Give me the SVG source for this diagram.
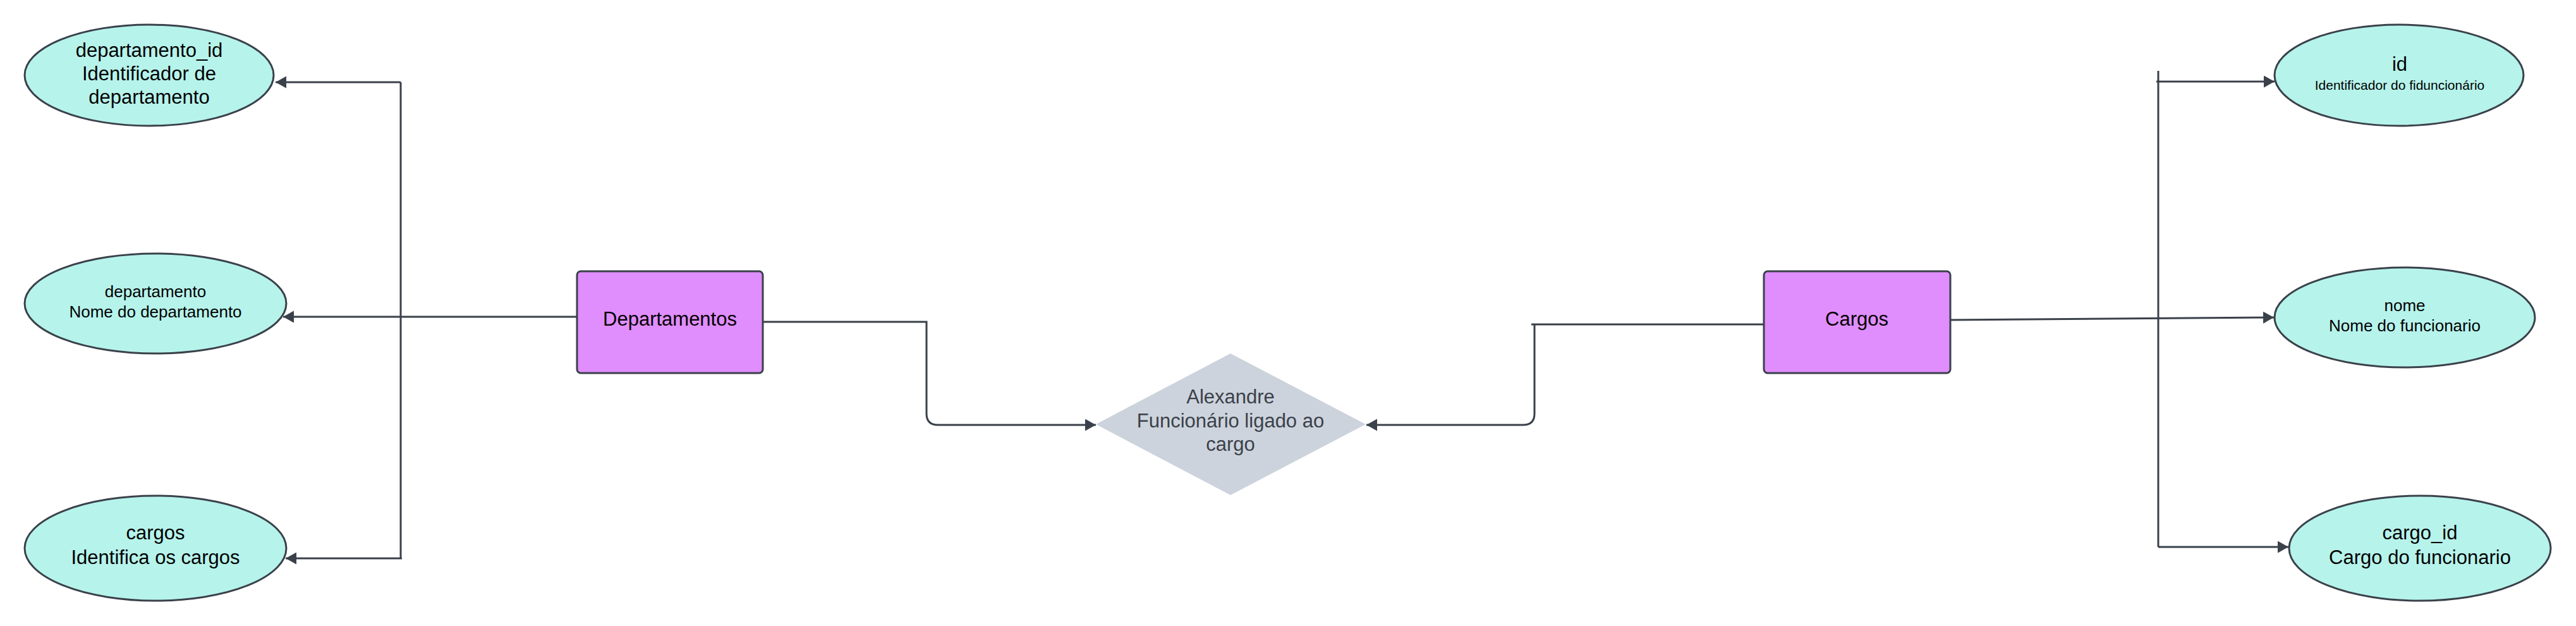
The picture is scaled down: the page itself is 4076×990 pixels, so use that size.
<svg xmlns="http://www.w3.org/2000/svg" width="4076" height="990" viewBox="0 0 4076 990">
<style>
.attr{fill:#b6f3eb;stroke:#3a414a;stroke-width:3}
.ent{fill:#e08dfd;stroke:#3a414a;stroke-width:3}
.rel{fill:#cdd3dc;stroke:none}
.t{font-family:"Liberation Sans",Arial,sans-serif;fill:#000;text-anchor:middle}
.tg{font-family:"Liberation Sans",Arial,sans-serif;fill:#3a414a;text-anchor:middle}
.c{fill:none;stroke:#3a414a;stroke-width:3}
</style>
<defs>
<marker id="arr" markerUnits="userSpaceOnUse" markerWidth="18" markerHeight="20" refX="17" refY="9.5" orient="auto">
<path d="M0,0 L17,9.5 L0,19 z" fill="#3a414a"/>
</marker>
</defs>
<rect width="4076" height="990" fill="#fff"/>
<g id="connectors">
<path class="c" d="M634,130 V883"/>
<path class="c" d="M634,130 H436" marker-end="url(#arr)"/>
<path class="c" d="M913,501 H448" marker-end="url(#arr)"/>
<path class="c" d="M636,883 H452" marker-end="url(#arr)"/>
<path class="c" d="M1207,509 H1466 V654 Q1466,672 1484,672 H1734" marker-end="url(#arr)"/>
<path class="c" d="M2791,513 H2423 M2428,513 V654 Q2428,672 2410,672 H2162" marker-end="url(#arr)"/>
<path class="c" d="M3086,506 L3598,502" marker-end="url(#arr)"/>
<path class="c" d="M3415,112 V865"/>
<path class="c" d="M3412,129 H3599" marker-end="url(#arr)"/>
<path class="c" d="M3415,865 H3621" marker-end="url(#arr)"/>
</g>
<g id="departamento_id">
<ellipse class="attr" cx="236" cy="119" rx="197" ry="80"/>
<text class="t" font-size="31" x="236" y="90">departamento_id</text>
<text class="t" font-size="31" x="236" y="127">Identificador de</text>
<text class="t" font-size="31" x="236" y="164">departamento</text>
</g>
<g id="departamento">
<ellipse class="attr" cx="246" cy="480" rx="207" ry="79"/>
<text class="t" font-size="26" x="246" y="470">departamento</text>
<text class="t" font-size="26" x="246" y="502">Nome do departamento</text>
</g>
<g id="cargos">
<ellipse class="attr" cx="246" cy="867" rx="207" ry="83"/>
<text class="t" font-size="31" x="246" y="853">cargos</text>
<text class="t" font-size="31" x="246" y="892">Identifica os cargos</text>
</g>
<g id="Departamentos">
<rect class="ent" x="913" y="429" width="294" height="161" rx="6"/>
<text class="t" font-size="31" x="1060" y="515">Departamentos</text>
</g>
<g id="relacao">
<path class="rel" d="M1947,559 L2161,671 L1947,783 L1734,671 z" stroke-linejoin="round"/>
<text class="tg" font-size="31" x="1947" y="638">Alexandre</text>
<text class="tg" font-size="31" x="1947" y="676">Funcionário ligado ao</text>
<text class="tg" font-size="31" x="1947" y="713">cargo</text>
</g>
<g id="Cargos">
<rect class="ent" x="2791" y="429" width="295" height="161" rx="6"/>
<text class="t" font-size="31" x="2938" y="515">Cargos</text>
</g>
<g id="id">
<ellipse class="attr" cx="3796" cy="119" rx="197" ry="80"/>
<text class="t" font-size="31" x="3797" y="112">id</text>
<text class="t" font-size="21" x="3797" y="142">Identificador do fiduncionário</text>
</g>
<g id="nome">
<ellipse class="attr" cx="3805" cy="502" rx="206" ry="79"/>
<text class="t" font-size="26" x="3805" y="492">nome</text>
<text class="t" font-size="26" x="3805" y="524">Nome do funcionario</text>
</g>
<g id="cargo_id">
<ellipse class="attr" cx="3829" cy="867" rx="207" ry="83"/>
<text class="t" font-size="31" x="3829" y="853">cargo_id</text>
<text class="t" font-size="31" x="3829" y="892">Cargo do funcionario</text>
</g>
</svg>
